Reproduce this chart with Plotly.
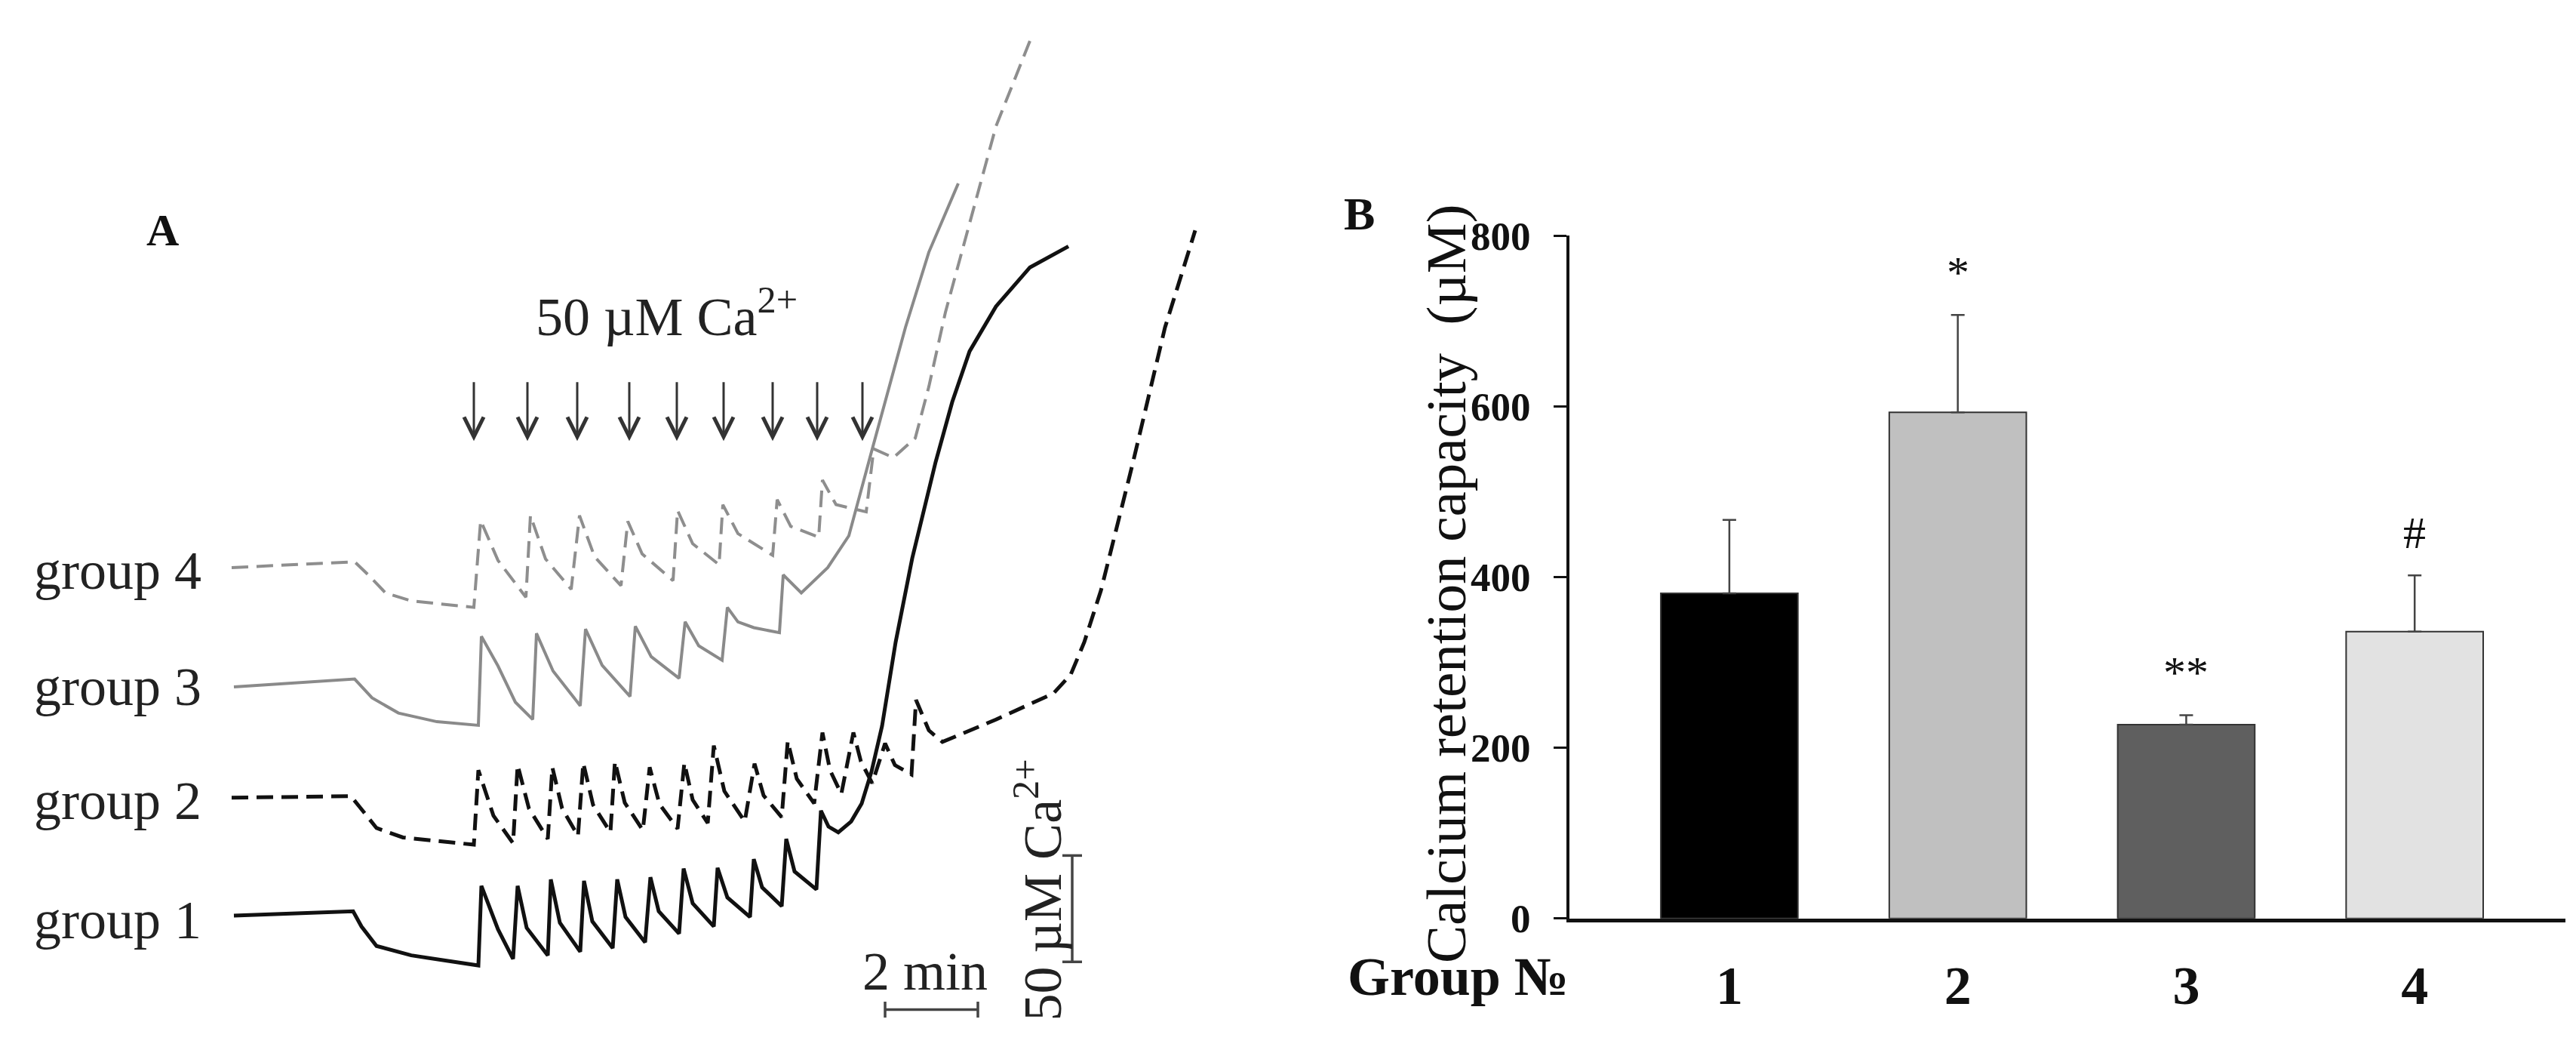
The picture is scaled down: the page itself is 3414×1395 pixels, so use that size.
import plotly.graph_objects as go

# ---- Panel A: Ca2+ traces (time and signal in arbitrary units;
#      62 time units = 1 min, 142 signal units = 50 uM Ca2+)
g1_t = [2, 160, 171, 191, 237, 326, 330, 352, 372, 378, 390, 418, 422, 434, 461, 466, 477, 504,
        510, 521, 547, 554, 565, 592, 598, 610, 638, 643, 656, 686, 691, 702, 728, 734, 745, 774,
        780, 790, 803, 820, 834, 847, 861, 879, 901, 921, 932, 954, 977, 1012, 1057, 1108]
g1_s = [72, 78, 57, 30, 17, 3, 113, 53, 12, 113, 55, 17, 122, 62, 22, 120, 64, 27,
        122, 70, 35, 125, 78, 47, 137, 89, 57, 138, 97, 70, 150, 111, 85, 178, 133, 108,
        217, 195, 187, 202, 227, 271, 334, 450, 566, 650, 699, 782, 852, 914, 968, 997]

g2_t = [-1, 157, 168, 191, 226, 320, 326, 346, 372, 378, 393, 418, 424, 437, 458, 465, 478, 501,
        507, 520, 544, 553, 566, 590, 599, 610, 630, 638, 652, 679, 692, 704, 728, 736, 748, 771,
        782, 792, 807, 823, 833, 848, 865, 878, 900, 906, 923, 941, 1012, 1088, 1111, 1129, 1151,
        1173, 1193, 1236, 1276]
g2_s = [235, 237, 223, 193, 180, 170, 273, 210, 172, 280, 220, 178, 277, 220, 182, 283, 225, 187,
        285, 228, 190, 277, 226, 192, 283, 232, 200, 307, 244, 202, 282, 238, 208, 313, 261, 227,
        325, 273, 240, 325, 285, 255, 310, 280, 267, 370, 328, 312, 343, 379, 405, 450, 521,
        611, 696, 885, 1019]

g3_t = [2, 162, 185, 220, 271, 326, 330, 352, 375, 398, 403, 425, 461, 468, 490, 527, 534, 555,
        592, 600, 618, 649, 656, 670, 691, 725, 730, 754, 789, 817, 847, 865, 892, 923, 962]
g3_s = [388, 399, 373, 352, 340, 335, 458, 417, 367, 343, 462, 410, 362, 468, 418, 375, 472, 430,
        400, 478, 445, 425, 498, 478, 470, 463, 543, 518, 553, 597, 713, 782, 885, 989, 1084]

g4_t = [-1, 162, 180, 203, 237, 320, 329, 352, 389, 395, 415, 449, 460, 480, 515, 524, 543, 584,
        590, 610, 645, 650, 670, 716, 722, 740, 777, 782, 800, 840, 850, 876, 905, 923, 945, 977,
        1012, 1057]
g4_s = [553, 561, 543, 518, 507, 498, 618, 563, 512, 625, 565, 523, 625, 568, 528, 617, 572, 535,
        632, 586, 557, 640, 600, 570, 647, 610, 595, 674, 640, 630, 717, 705, 732, 803, 906, 1030,
        1163, 1281]

# Ca2+ additions (arrows)
add_t = [320, 391, 457, 526, 589, 651, 716, 775, 835]

# scale bars
bar_time_t = [865, 988]        # 2 min
bar_time_s = [-58, -58]
bar_ca_t = [1113, 1113]
bar_ca_s = [8, 155]            # 50 uM

# ---- Panel B: calcium retention capacity
groups = [1, 2, 3, 4]
crc_mean = [381, 593, 227, 336]
crc_err = [86, 114, 11, 66]
bar_colors = ["#000000", "#c0c0c0", "#5f5f5f", "#e2e2e2"]
signif = ["", "*", "**", "#"]

SERIF = "Liberation Serif"
W, H = 3414, 1395

fig = go.Figure()

trace_style = [
    (g4_t, g4_s, "#8e8e8e", "22px,11px", 4),
    (g3_t, g3_s, "#8a8a8a", "solid", 4),
    (g2_t, g2_s, "#111111", "22px,11px", 5),
    (g1_t, g1_s, "#111111", "solid", 5),
]
for t, s, col, dash, w in trace_style:
    fig.add_trace(go.Scatter(x=t, y=s, mode="lines", xaxis="x", yaxis="y",
                             line=dict(color=col, dash=dash, width=w), showlegend=False,
                             hoverinfo="skip"))

# scale bars with end caps
fig.add_trace(go.Scatter(x=bar_time_t, y=bar_time_s, mode="lines", xaxis="x", yaxis="y",
                         line=dict(color="#444", width=3.5), showlegend=False,
                         error_y=dict(type="constant", value=11, color="#444", thickness=3.5, width=0)))
fig.add_trace(go.Scatter(x=bar_ca_t, y=bar_ca_s, mode="lines", xaxis="x", yaxis="y",
                         line=dict(color="#444", width=3.5), showlegend=False,
                         error_x=dict(type="constant", value=13, color="#444", thickness=3.5, width=0)))

# bars
fig.add_trace(go.Bar(x=groups, y=crc_mean, xaxis="x2", yaxis="y2", width=0.6,
                     marker=dict(color=bar_colors, line=dict(color="#333", width=2)),
                     error_y=dict(type="data", symmetric=False, array=crc_err,
                                  arrayminus=[0] * 4, color="#444", thickness=2.5, width=9),
                     showlegend=False))

annotations = []
for t in add_t:
    annotations.append(dict(x=t, y=728, ax=t, ay=811, xref="x", yref="y", axref="x", ayref="y",
                            text="", showarrow=True, arrowhead=5, arrowsize=1.7, arrowwidth=3,
                            arrowcolor="#333"))

for i, g in enumerate(groups):
    if signif[i]:
        annotations.append(dict(x=g, y=crc_mean[i] + crc_err[i] + 50, xref="x2", yref="y2",
                                text=signif[i], showarrow=False, xanchor="center",
                                yanchor="middle", font=dict(family=SERIF, size=60, color="#111")))


def paper_note(text, px, py, size, bold=False, xanchor="center", angle=0, color="#111"):
    return dict(x=px / W, y=1 - py / H, xref="paper", yref="paper",
                text=f"<b>{text}</b>" if bold else text, showarrow=False,
                xanchor=xanchor, yanchor="middle", textangle=angle,
                font=dict(family=SERIF, size=size, color=color))


for name, yp in [("group 4", 751), ("group 3", 912), ("group 2", 1069), ("group 1", 1234)]:
    annotations.append(paper_note(name, 35, yp, 72, xanchor="left", color="#222"))

label_font = dict(family=SERIF, size=72, color="#222")
annotations += [
    paper_note("A", 207, 281, 60, bold=True),
    paper_note("B", 1793, 258, 62, bold=True),
    dict(x=575, y=905, xref="x", yref="y", text="50 µM Ca<sup>2+</sup>", showarrow=False,
         xanchor="center", yanchor="middle", font=label_font),
    dict(x=918, y=-5, xref="x", yref="y", text="2 min", showarrow=False,
         xanchor="center", yanchor="middle", font=label_font),
    dict(x=1068, y=107, xref="x", yref="y", text="50 µM Ca<sup>2+</sup>", showarrow=False,
         xanchor="center", yanchor="middle", textangle=-90, font=label_font),
    paper_note("Group №", 2073, 1313, 72, bold=True, xanchor="right"),
    paper_note("Calcium retention capacity  (µM)", 1909, 770, 75, angle=-90),
]

fig.update_layout(
    width=W, height=H,
    margin=dict(l=0, r=0, t=0, b=0),
    paper_bgcolor="white", plot_bgcolor="white",
    xaxis=dict(domain=[0, 0.5], range=[-300, 1407], visible=False),
    yaxis=dict(domain=[0, 1], range=[-95, 1300], visible=False),
    xaxis2=dict(domain=[2072 / W, 3392 / W], range=[0.3, 4.66], anchor="y2",
                showline=True, linecolor="#111", linewidth=5, showgrid=False, zeroline=False,
                tickvals=groups, ticktext=[str(g) for g in groups], ticks="",
                ticklabelstandoff=22,
                tickfont=dict(family=SERIF, size=72, color="#111", weight="bold")),
    yaxis2=dict(domain=[1 - 1232 / H, 1 - 288 / H], range=[0, 800], anchor="x2",
                showline=True, linecolor="#111", linewidth=4, showgrid=False, zeroline=False,
                tickvals=[0, 200, 400, 600, 800], ticks="outside", ticklen=17, tickwidth=3,
                tickcolor="#111", ticklabelstandoff=20,
                tickfont=dict(family=SERIF, size=53, color="#111", weight="bold")),
    annotations=annotations,
)

fig.write_html("out.html")
